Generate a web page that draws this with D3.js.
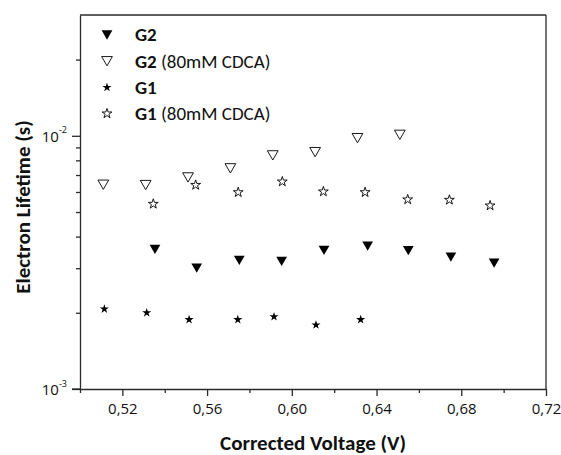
<!DOCTYPE html>
<html>
<head>
<meta charset="utf-8">
<script src="https://cdn.jsdelivr.net/npm/d3@7"></script>
<style>
  body { margin: 0; background: #fff; }
  svg { display: block; font-family: Calibri, Carlito, "Open Sans", sans-serif; }
</style>
</head>
<body>
<svg width="561" height="455"></svg>
<script>
(function () {
    'use strict'

    // data (voltage in V, lifetime in s)
    const g2Volt = [0.5354, 0.5551, 0.5752, 0.5952, 0.6152, 0.6358, 0.6550, 0.6751, 0.6955];
    const g2Life = [3.56e-3, 3.00e-3, 3.22e-3, 3.19e-3, 3.53e-3, 3.67e-3, 3.52e-3, 3.32e-3, 3.14e-3];

    const g2cVolt = [0.511, 0.531, 0.551, 0.571, 0.591, 0.611, 0.631, 0.651];
    const g2cLife = [6.41e-3, 6.39e-3, 6.85e-3, 7.44e-3, 8.37e-3, 8.62e-3, 9.79e-3, 1.009e-2];

    const g1Volt = [0.5115, 0.5315, 0.5515, 0.5745, 0.5916, 0.6114, 0.6325];
    const g1Life = [2.07e-3, 2.00e-3, 1.88e-3, 1.88e-3, 1.93e-3, 1.79e-3, 1.88e-3];

    const g1cVolt = [0.5346, 0.5546, 0.5747, 0.5955, 0.6149, 0.6346, 0.6547, 0.6744, 0.6936];
    const g1cLife = [5.38e-3, 6.39e-3, 5.98e-3, 6.59e-3, 6.02e-3, 5.98e-3, 5.60e-3, 5.58e-3, 5.30e-3];

    const xTicks = [0.52, 0.56, 0.60, 0.64, 0.68, 0.72];
    const xMinorTicks = [0.50, 0.54, 0.58, 0.62, 0.66, 0.70];
    const yTicks = [1e-3, 1e-2];
    const yMinorTicks = [2e-3, 3e-3, 4e-3, 5e-3, 6e-3, 7e-3, 8e-3, 9e-3, 2e-2];

    const legendNames = ['G2', 'G2', 'G1', 'G1'];
    const legendSuffix = ['', ' (80mM CDCA)', '', ' (80mM CDCA)'];

    let svg = d3.select('svg'),
        margin = { top: 15, right: 15, bottom: 66, left: 80 },
        width = +svg.attr('width') - margin.left - margin.right,
        height = +svg.attr('height') - margin.top - margin.bottom,
        g = svg.append('g').attr('transform', 'translate(' + margin.left + ',' + margin.top + ')');

    let x = d3.scaleLinear().domain([0.50, 0.72]).range([0, width]);
    let y = d3.scaleLog().domain([1e-3, 3e-2]).range([height, 0]);

    let fmt = d3.formatLocale({ decimal: ',', thousands: '.', grouping: [3], currency: ['', ''] }).format('.2f');

    const axisColor = '#2a2a2a';

    // down-pointing triangle centred on its bounding box
    const triDown = {
        draw(ctx, size) {
            let s = Math.sqrt(size * 4 / Math.sqrt(3));
            let h = s * Math.sqrt(3) / 2;
            ctx.moveTo(-s / 2, -h / 2);
            ctx.lineTo(s / 2, -h / 2);
            ctx.lineTo(0, h / 2);
            ctx.closePath();
        }
    };

    const series = [
        { vx: g2Volt, vy: g2Life, type: triDown, size: 50, fill: '#000' },
        { vx: g2cVolt, vy: g2cLife, type: triDown, size: 50, fill: 'none' },
        { vx: g1Volt, vy: g1Life, type: d3.symbolStar, size: 26, fill: '#000' },
        { vx: g1cVolt, vy: g1cLife, type: d3.symbolStar, size: 30, fill: 'none' }
    ];

    // frame: top and right lines
    g.append('line').attr('x1', 0).attr('x2', width).attr('y1', 0).attr('y2', 0)
        .attr('stroke', axisColor).attr('stroke-width', 1.3);
    g.append('line').attr('x1', width).attr('x2', width).attr('y1', 0).attr('y2', height)
        .attr('stroke', axisColor).attr('stroke-width', 1.3);

    // x axis
    let xAxis = g.append('g').attr('transform', 'translate(0,' + height + ')')
        .call(d3.axisBottom(x).tickValues(xTicks).tickFormat(fmt).tickSizeInner(7).tickSizeOuter(0).tickPadding(7));
    g.append('g').attr('transform', 'translate(0,' + height + ')')
        .call(d3.axisBottom(x).tickValues(xMinorTicks).tickFormat('').tickSizeInner(4).tickSizeOuter(0))
        .select('.domain').remove();

    // y axis
    g.append('g')
        .call(d3.axisLeft(y).tickValues(yTicks).tickFormat('').tickSizeInner(8).tickSizeOuter(0));
    g.append('g')
        .call(d3.axisLeft(y).tickValues(yMinorTicks).tickFormat('').tickSizeInner(4).tickSizeOuter(0))
        .select('.domain').remove();

    // x axis crossing line extends left by the major tick
    g.append('line').attr('x1', -8).attr('x2', 0).attr('y1', height).attr('y2', height)
        .attr('stroke', axisColor).attr('stroke-width', 1.3);

    g.selectAll('.domain, .tick line').attr('stroke', axisColor).attr('stroke-width', 1.3);
    xAxis.selectAll('.tick text')
        .attr('font-family', '"Open Sans", sans-serif')
        .attr('font-size', 15).attr('fill', '#111');

    // y tick labels as 10^n
    let ylab = g.selectAll('.ylab').data(yTicks).enter().append('text')
        .attr('class', 'ylab')
        .attr('x', -13)
        .attr('y', d => y(d))
        .attr('dy', '0.36em')
        .attr('text-anchor', 'end')
        .attr('font-family', '"Open Sans", sans-serif')
        .attr('fill', '#111');
    ylab.append('tspan').attr('font-size', 15).text('10');
    ylab.append('tspan').attr('font-size', 9).attr('dy', '-0.9em').text(d => Math.round(Math.log10(d)));

    // points
    series.forEach(function (s) {
        g.selectAll(null)
            .data(s.vx.map((v, i) => [v, s.vy[i]]))
            .enter()
            .append('path')
            .attr('d', d3.symbol().type(s.type).size(s.size))
            .attr('transform', d => 'translate(' + x(d[0]) + ',' + y(d[1]) + ')')
            .attr('fill', s.fill)
            .attr('stroke', '#000')
            .attr('stroke-width', s.fill === 'none' ? 0.9 : 0);
    });

    // legend
    let leg = g.append('g').attr('transform', 'translate(27,20)');
    let rows = leg.selectAll('g').data(series).enter().append('g')
        .attr('transform', (d, i) => 'translate(0,' + (i * 26.2) + ')');
    rows.append('path')
        .attr('d', d => d3.symbol().type(d.type).size(d.size)())
        .attr('fill', d => d.fill)
        .attr('stroke', '#000')
        .attr('stroke-width', d => d.fill === 'none' ? 0.9 : 0);
    let lt = rows.append('text')
        .attr('x', 28)
        .attr('dy', '0.34em')
        .attr('font-size', 19)
        .attr('fill', '#111');
    lt.append('tspan').attr('font-weight', 'bold').text((d, i) => legendNames[i]);
    lt.append('tspan').text((d, i) => legendSuffix[i]);

    // axis titles
    svg.append('text')
        .attr('x', margin.left + width / 2)
        .attr('y', 450)
        .attr('text-anchor', 'middle')
        .attr('font-weight', 'bold')
        .attr('font-size', 21)
        .attr('fill', '#111')
        .text('Corrected Voltage (V)');

    svg.append('text')
        .attr('transform', 'translate(30,207) rotate(-90)')
        .attr('text-anchor', 'middle')
        .attr('font-weight', 'bold')
        .attr('font-size', 21)
        .attr('fill', '#111')
        .text('Electron Lifetime (s)');
})();
</script>
</body>
</html>
